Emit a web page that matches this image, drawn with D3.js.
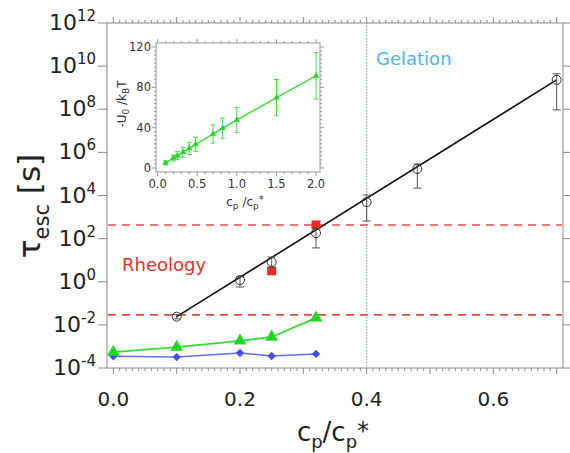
<!DOCTYPE html>
<html>
<head>
<meta charset="utf-8">
<script src="https://cdn.jsdelivr.net/npm/d3@7"></script>
<style>
  body { margin: 0; background: #fff; }
  svg { font-family: "DejaVu Sans", Verdana, sans-serif; }
</style>
</head>
<body>
<div id="chart"></div>
<script>
// main panel: escape time vs concentration
const conc = [0.1, 0.2, 0.25, 0.32, 0.4, 0.48, 0.7];
const tauEsc = [0.024, 1.2, 8.3, 180, 5000, 1.7e5, 2.3e9];
const tauLo = [0.019, 0.57, 4.4, 37, 660, 2.2e4, 9.3e7];
const tauHi = [0.03, 1.7, 14, 310, 1.05e4, 2.9e5, 4.4e9];

const fitX = [0.1, 0.7];
const fitY = [0.024, 2.3e9];

const rheoX = [0.25, 0.32];
const rheoY = [3.2, 430];

const greenX = [0, 0.1, 0.2, 0.25, 0.32];
const greenY = [5.5e-4, 9.3e-4, 1.8e-3, 2.75e-3, 0.021];

const blueX = [0, 0.1, 0.2, 0.25, 0.32];
const blueY = [3.5e-4, 3.2e-4, 5.0e-4, 3.6e-4, 4.5e-4];

const dashLevels = [430, 0.029];
const gelX = 0.4;

const xTicks = [0, 0.2, 0.4, 0.6];
const yTicks = [-4, -2, 0, 2, 4, 6, 8, 10, 12];

// inset: barrier height vs concentration
const insetX = [0.1, 0.2, 0.25, 0.32, 0.4, 0.48, 0.7, 0.82, 1.0, 1.5, 2.0];
const insetU = [5, 9.9, 12.2, 15.6, 19.5, 23.5, 33.7, 39.4, 47.6, 69.8, 91.4];
const insetErr = [2, 3, 4, 5, 6, 7, 9, 10, 12.5, 18, 23];
const insetXTicks = [0, 0.5, 1.0, 1.5, 2.0];
const insetYTicks = [0, 40, 80, 120];

const width = 570, height = 453;
const svg = d3.select("#chart").append("svg")
    .attr("width", width)
    .attr("height", height);

const pLeft = 107, pRight = 563, pTop = 23, pBottom = 368;

const x = d3.scaleLinear().domain([-0.01, 0.71]).range([pLeft, pRight]);
const y = d3.scaleLog().domain([1e-4, 1e12]).range([pBottom, pTop]);

const frameColor = "#8a8a8a";

svg.append("rect")
    .attr("x", pLeft).attr("y", pTop)
    .attr("width", pRight - pLeft).attr("height", pBottom - pTop)
    .attr("fill", "#fff")
    .attr("stroke", frameColor);

// x ticks (bottom and top, outward)
d3.range(0, 71).forEach(i => {
    const v = i / 100;
    const len = i % 10 === 0 ? 6 : 3;
    svg.append("line")
        .attr("x1", x(v)).attr("x2", x(v))
        .attr("y1", pBottom).attr("y2", pBottom + len)
        .attr("stroke", frameColor);
    svg.append("line")
        .attr("x1", x(v)).attr("x2", x(v))
        .attr("y1", pTop).attr("y2", pTop - len)
        .attr("stroke", frameColor);
});

// y ticks (left and right, outward)
yTicks.forEach(e => {
    const yy = y(Math.pow(10, e));
    svg.append("line")
        .attr("x1", pLeft - 9).attr("x2", pLeft)
        .attr("y1", yy).attr("y2", yy)
        .attr("stroke", frameColor);
    svg.append("line")
        .attr("x1", pRight).attr("x2", pRight + 7)
        .attr("y1", yy).attr("y2", yy)
        .attr("stroke", frameColor);

    const t = svg.append("text")
        .attr("x", 96)
        .attr("y", yy + 7)
        .attr("text-anchor", "end")
        .attr("fill", "#222")
        .style("font-size", "22px")
        .text("10");
    t.append("tspan")
        .attr("dy", -9)
        .style("font-size", "15px")
        .text(e);
});

xTicks.forEach(v => {
    svg.append("text")
        .attr("x", x(v))
        .attr("y", 406)
        .attr("text-anchor", "middle")
        .attr("fill", "#222")
        .style("font-size", "20px")
        .text(v.toFixed(1));
});

// axis titles
const xt = svg.append("text")
    .attr("x", 333).attr("y", 441)
    .attr("text-anchor", "middle")
    .attr("fill", "#222")
    .style("font-size", "26px");
xt.append("tspan").text("c");
xt.append("tspan").attr("dy", 7).style("font-size", "18px").text("p");
xt.append("tspan").attr("dy", -7).text("/c");
xt.append("tspan").attr("dy", 7).style("font-size", "18px").text("p");
xt.append("tspan").attr("dy", -9).style("font-size", "24px").text("*");

const yt = svg.append("text")
    .attr("transform", "translate(40,206) rotate(-90)")
    .attr("text-anchor", "middle")
    .attr("fill", "#222")
    .style("font-size", "31px");
yt.append("tspan").text("τ");
yt.append("tspan").attr("dy", 9).style("font-size", "21px").text("esc");
yt.append("tspan").attr("dy", -9).text(" [s]");

// gelation line
svg.append("line")
    .attr("x1", x(gelX)).attr("x2", x(gelX))
    .attr("y1", pTop).attr("y2", pBottom)
    .attr("stroke", "#5ab4e0")
    .attr("stroke-width", 1.2)
    .attr("stroke-dasharray", "1.5,1.5");

// rheology window
dashLevels.forEach(v => {
    svg.append("line")
        .attr("x1", pLeft + 1).attr("x2", pRight - 1)
        .attr("y1", y(v)).attr("y2", y(v))
        .attr("stroke", "#ea4a44")
        .attr("stroke-width", 1.6)
        .attr("stroke-dasharray", "8,6");
});

svg.append("text")
    .attr("x", 376).attr("y", 65)
    .attr("fill", "#4fb3ea")
    .style("font-size", "18px")
    .text("Gelation");

svg.append("text")
    .attr("x", 122).attr("y", 271)
    .attr("fill", "#ec2f26")
    .style("font-size", "18px")
    .text("Rheology");

// blue diamonds
const lineGen = d3.line().x(d => x(d[0])).y(d => y(d[1]));
svg.append("path")
    .attr("d", lineGen(blueX.map((v, i) => [v, blueY[i]])))
    .attr("fill", "none")
    .attr("stroke", "#6070f2")
    .attr("stroke-width", 1.5);
blueX.forEach((v, i) => {
    svg.append("path")
        .attr("d", d3.symbol().type(d3.symbolDiamond2).size(45)())
        .attr("transform", `translate(${x(v)},${y(blueY[i])})`)
        .attr("fill", "#3f4ff0");
});

// green triangles
svg.append("path")
    .attr("d", lineGen(greenX.map((v, i) => [v, greenY[i]])))
    .attr("fill", "none")
    .attr("stroke", "#2edc2e")
    .attr("stroke-width", 1.8);
greenX.forEach((v, i) => {
    svg.append("path")
        .attr("d", d3.symbol().type(d3.symbolTriangle).size(70)())
        .attr("transform", `translate(${x(v)},${y(greenY[i])})`)
        .attr("fill", "#1fd81f");
});

// fit line
svg.append("path")
    .attr("d", lineGen(fitX.map((v, i) => [v, fitY[i]])))
    .attr("fill", "none")
    .attr("stroke", "#111")
    .attr("stroke-width", 1.6);

// red squares
rheoX.forEach((v, i) => {
    svg.append("rect")
        .attr("x", x(v) - 4.5).attr("y", y(rheoY[i]) - 4.5)
        .attr("width", 9).attr("height", 9)
        .attr("fill", "#f02a1e");
});

// black circles with error bars
conc.forEach((v, i) => {
    const cx = x(v);
    svg.append("line")
        .attr("x1", cx).attr("x2", cx)
        .attr("y1", y(tauLo[i])).attr("y2", y(tauHi[i]))
        .attr("stroke", "#555");
    [tauLo[i], tauHi[i]].forEach(b => {
        svg.append("line")
            .attr("x1", cx - 4).attr("x2", cx + 4)
            .attr("y1", y(b)).attr("y2", y(b))
            .attr("stroke", "#555");
    });
    svg.append("circle")
        .attr("cx", cx).attr("cy", y(tauEsc[i]))
        .attr("r", 4.5)
        .attr("fill", "none")
        .attr("stroke", "#333");
});

// ---- inset ----
const iLeft = 156, iRight = 320, iTop = 43, iBottom = 172;
const ix = d3.scaleLinear().domain([-0.02, 2.05]).range([iLeft, iRight]);
const iy = d3.scaleLinear().domain([-4, 124]).range([iBottom, iTop]);

svg.append("rect")
    .attr("x", iLeft).attr("y", iTop)
    .attr("width", iRight - iLeft).attr("height", iBottom - iTop)
    .attr("fill", "#fff")
    .attr("stroke", "#999");

d3.range(0, 21).forEach(i => {
    const v = i / 10;
    const len = i % 5 === 0 ? 4 : 2;
    svg.append("line")
        .attr("x1", ix(v)).attr("x2", ix(v))
        .attr("y1", iBottom).attr("y2", iBottom + len)
        .attr("stroke", "#999");
    svg.append("line")
        .attr("x1", ix(v)).attr("x2", ix(v))
        .attr("y1", iTop).attr("y2", iTop - len)
        .attr("stroke", "#999");
});
d3.range(0, 31).forEach(i => {
    const v = i * 4;
    const len = i % 10 === 0 ? 4 : 2;
    svg.append("line")
        .attr("x1", iLeft - len).attr("x2", iLeft)
        .attr("y1", iy(v)).attr("y2", iy(v))
        .attr("stroke", "#999");
    svg.append("line")
        .attr("x1", iRight).attr("x2", iRight + len)
        .attr("y1", iy(v)).attr("y2", iy(v))
        .attr("stroke", "#999");
});

insetXTicks.forEach(v => {
    svg.append("text")
        .attr("x", ix(v)).attr("y", 188)
        .attr("text-anchor", "middle")
        .attr("fill", "#333")
        .style("font-size", "11.5px")
        .text(v.toFixed(1));
});
insetYTicks.forEach(v => {
    svg.append("text")
        .attr("x", 151).attr("y", iy(v) + 4)
        .attr("text-anchor", "end")
        .attr("fill", "#333")
        .style("font-size", "11.5px")
        .text(v);
});

const ixt = svg.append("text")
    .attr("x", 245).attr("y", 206)
    .attr("text-anchor", "middle")
    .attr("fill", "#333")
    .style("font-size", "12px");
ixt.append("tspan").text("c");
ixt.append("tspan").attr("dy", 3).style("font-size", "9px").text("p");
ixt.append("tspan").attr("dy", -3).text(" /c");
ixt.append("tspan").attr("dy", 3).style("font-size", "9px").text("p");
ixt.append("tspan").attr("dy", -6).style("font-size", "10px").text("*");

const iyt = svg.append("text")
    .attr("transform", "translate(126,104) rotate(-90)")
    .attr("text-anchor", "middle")
    .attr("fill", "#333")
    .style("font-size", "12px");
iyt.append("tspan").text("-U");
iyt.append("tspan").attr("dy", 3).style("font-size", "9px").text("0");
iyt.append("tspan").attr("dy", -3).text(" /k");
iyt.append("tspan").attr("dy", 3).style("font-size", "9px").text("B");
iyt.append("tspan").attr("dy", -3).text("T");

svg.append("path")
    .attr("d", d3.line().x(d => ix(d[0])).y(d => iy(d[1]))(insetX.map((v, i) => [v, insetU[i]])))
    .attr("fill", "none")
    .attr("stroke", "#3fe03f")
    .attr("stroke-width", 1.5);

insetX.forEach((v, i) => {
    const cx = ix(v);
    const lo = iy(insetU[i] - insetErr[i]);
    const hi = iy(insetU[i] + insetErr[i]);
    svg.append("line")
        .attr("x1", cx).attr("x2", cx)
        .attr("y1", lo).attr("y2", hi)
        .attr("stroke", "#3fe03f");
    [lo, hi].forEach(b => {
        svg.append("line")
            .attr("x1", cx - 2.5).attr("x2", cx + 2.5)
            .attr("y1", b).attr("y2", b)
            .attr("stroke", "#3fe03f");
    });
    svg.append("path")
        .attr("d", d3.symbol().type(d3.symbolTriangle).size(18)())
        .attr("transform", `translate(${cx},${iy(insetU[i])})`)
        .attr("fill", "#22d822");
});
</script>
</body>
</html>
